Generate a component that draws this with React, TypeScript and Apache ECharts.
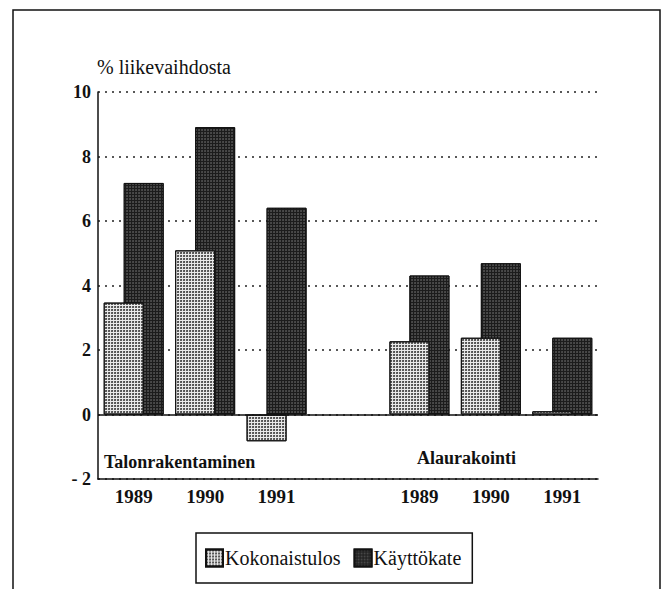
import React, { useEffect, useRef } from "react";
import * as echarts from "echarts";

const categories = ["1989", "1990", "1991", "", "1989", "1990", "1991"];
const kokonaistulos = [3.47, 5.09, -0.83, "-", 2.27, 2.38, 0.1];
const kayttokate = [7.18, 8.91, 6.41, "-", 4.31, 4.69, 2.38];
const seriesNames = ["Kokonaistulos", "Käyttökate"];
const groupLabels = ["Talonrakentaminen", "Alaurakointi"];
const yTicks = { min: -2, max: 10, interval: 2 };
const yName = "% liikevaihdosta";

export default function App() {
  const ref = useRef<HTMLDivElement>(null);
  useEffect(() => {
    if (!ref.current) return;
    const chart = echarts.init(ref.current, undefined, { renderer: "svg" });
    const serif = "'Liberation Serif', 'Times New Roman', serif";
    chart.setOption({
      animation: false,
      backgroundColor: "#ffffff",
      grid: { left: 98, top: 92, width: 500, height: 387, containLabel: false },
      legend: {
        left: 196,
        top: 533,
        padding: [15, 11, 15, 9],
        borderColor: "#111",
        borderWidth: 1.5,
        itemWidth: 17,
        itemHeight: 17,
        itemGap: 13,
        icon: "rect",
        textStyle: { fontFamily: serif, fontSize: 20, color: "#111", padding: [0, 0, 0, -3] },
        data: seriesNames,
      },
      xAxis: {
        type: "category",
        data: categories,
        boundaryGap: true,
        axisLine: { show: true, onZero: false, lineStyle: { color: "#111", width: 1.5 } },
        axisTick: { show: false },
        axisLabel: { fontFamily: serif, fontSize: 19, fontWeight: "bold", color: "#111", margin: 8 },
        splitLine: { show: false },
      },
      yAxis: {
        type: "value",
        min: yTicks.min,
        max: yTicks.max,
        interval: yTicks.interval,
        axisLine: { show: true, lineStyle: { color: "#111", width: 1.5 } },
        axisTick: { show: false },
        axisLabel: {
          fontFamily: serif,
          fontSize: 18,
          fontWeight: "bold",
          color: "#111",
          margin: 7,
          formatter: (v: number) => (v < 0 ? "- " + Math.abs(v) : String(v)),
        },
        splitLine: { show: true, lineStyle: { color: "#222", width: 1.5, type: [2, 5] } },
      },
      graphic: [
        {
          type: "rect",
          shape: { x: 13, y: 10, width: 647, height: 640 },
          style: { fill: "none", stroke: "#111", lineWidth: 1.5 },
          silent: true,
        },
        {
          type: "text",
          x: 97,
          y: 67,
          style: { text: yName, fontFamily: serif, fontSize: 20, fill: "#111", verticalAlign: "middle" },
        },
        {
          type: "text",
          x: 104,
          y: 462,
          style: { text: groupLabels[0], fontFamily: serif, fontWeight: "bold", fontSize: 18, fill: "#111", verticalAlign: "middle" },
        },
        {
          type: "text",
          x: 417,
          y: 458,
          style: { text: groupLabels[1], fontFamily: serif, fontWeight: "bold", fontSize: 18, fill: "#111", verticalAlign: "middle" },
        },
      ],
      series: [
        {
          name: seriesNames[0],
          type: "bar",
          data: kokonaistulos,
          barWidth: 40,
          barGap: "-50%",
          z: 3,
          itemStyle: {
            color: "#ebebeb",
            borderColor: "#111",
            borderWidth: 1,
            decal: {
              symbol: "circle",
              symbolSize: 0.95,
              color: "#333",
              dashArrayX: [2, 1],
              dashArrayY: [2, 1],
            },
          },
          markLine: {
            silent: true,
            symbol: "none",
            label: { show: false },
            lineStyle: { color: "#111", width: 1.5, type: "solid" },
            data: [{ yAxis: 0 }],
          },
        },
        {
          name: seriesNames[1],
          type: "bar",
          data: kayttokate,
          barWidth: 40,
          barGap: "-50%",
          z: 2,
          itemStyle: {
            color: "#1c1c1c",
            borderColor: "#111",
            borderWidth: 1,
            decal: {
              symbol: "circle",
              symbolSize: 0.6,
              color: "#9a9a9a",
              dashArrayX: [2, 1],
              dashArrayY: [2, 1],
            },
          },
        },
      ],
    });
    return () => chart.dispose();
  }, []);
  return <div ref={ref} style={{ position: "absolute", left: 0, top: 0, width: 666, height: 589 }} />;
}
